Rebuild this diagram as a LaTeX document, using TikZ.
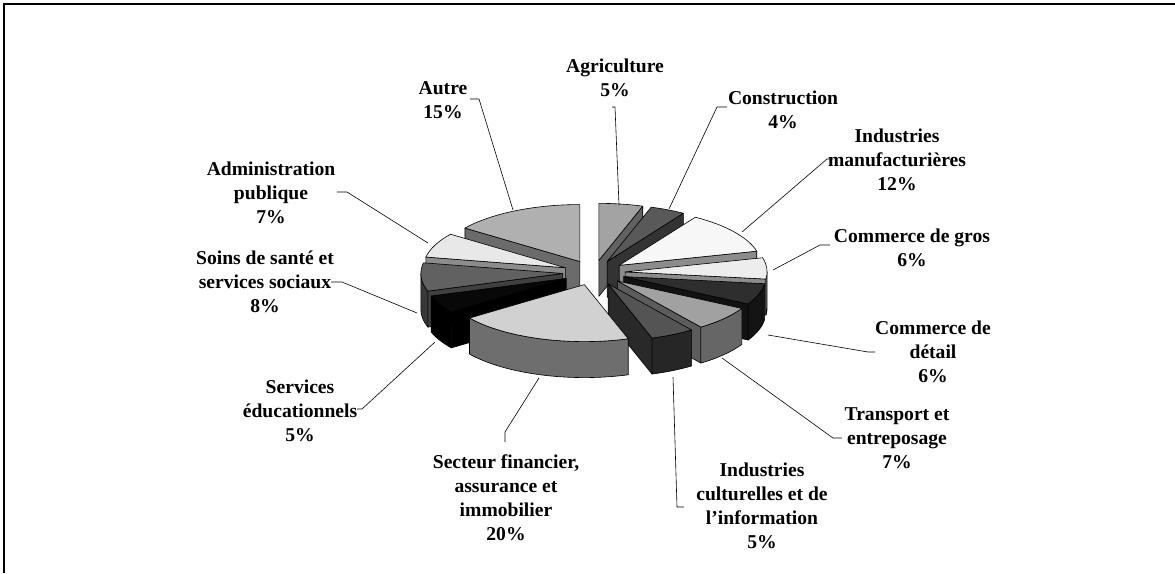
\documentclass[tikz,border=0pt]{standalone}
\usepackage{fontspec}
\setmainfont{Liberation Serif}
\usepackage{tikz}
\usetikzlibrary{positioning}
\tikzset{face/.style = {draw=black, line width=0.6pt, line join=round}}
\tikzset{lbl/.style = {align=center, inner sep=0,
                       font=\fontsize{19.6}{24}\selectfont\bfseries}}
\tikzset{lead/.style = {draw=black, line width=0.6pt}}

\begin{document}
\begin{tikzpicture}[x=1pt, y=-1pt]
    \useasboundingbox (0,0) rectangle (1175,573);
    \draw[line width=1.3pt] (4,573) -- (4,4) -- (1175,4);

    % slices, back to front: start/end angle, top, cut face, rim
    \begin{scope}[shift={(594,272.7)}, yscale=-1]
      \foreach \a/\b/\ctop/\cface/\crim in {72/90/0.64/0.38/0.38,
                                             57.6/72/0.35/0.2/0.2,
                                             -270/-216/0.69/0.42/0.42,
                                             14.4/57.6/0.97/0.55/0.55,
                                             -216/-190.8/0.91/0.55/0.55,
                                             -7.2/14.4/0.93/0.55/0.78,
                                             -190.8/-162/0.38/0.25/0.22,
                                             -28.8/-7.2/0.18/0.07/0.08,
                                             -162/-144/0.03/0/0,
                                             -54/-28.8/0.63/0.36/0.4,
                                             -72/-54/0.33/0.16/0.15,
                                             -144/-72/0.82/0.43/0.43} {
        \definecolor{topc}{gray}{\ctop}
        \definecolor{facec}{gray}{\cface}
        \definecolor{rimc}{gray}{\crim}
        \pgfmathsetmacro\midang{(\a+\b)/2}
        \pgfmathtruncatemacro\sa{cos(\a)>0.01}
        \pgfmathtruncatemacro\sb{cos(\b)<-0.01}
        \pgfmathsetmacro\ra{max(\a,-180)}
        \pgfmathsetmacro\rb{min(\b,0)}
        \pgfmathtruncatemacro\sr{\ra<\rb}
        \begin{scope}[shift={({31.2*cos(\midang)},{12.5*sin(\midang)})}]
          \ifnum\sa=1
            \filldraw[face, fill=facec] (0,0) -- (\a:142 and 57) -- ++(0,-36) -- (0,-36) -- cycle;
          \fi
          \ifnum\sb=1
            \filldraw[face, fill=facec] (0,0) -- (\b:142 and 57) -- ++(0,-36) -- (0,-36) -- cycle;
          \fi
          \ifnum\sr=1
            \filldraw[face, fill=rimc] (\ra:142 and 57)
              arc[start angle=\ra, end angle=\rb, x radius=142, y radius=57] -- ++(0,-36)
              arc[start angle=\rb, end angle=\ra, x radius=142, y radius=57] -- cycle;
          \fi
          \filldraw[face, fill=topc] (0,0) -- (\a:142 and 57)
            arc[start angle=\a, end angle=\b, x radius=142, y radius=57] -- cycle;
        \end{scope}
      }
    \end{scope}

    \node[lbl] (agri) at (615,77.5) {Agriculture\\5\%};
    \node[lbl] (constr) at (783,109.5) {Construction\\4\%};
    \node[lbl] (manuf) at (897,160) {Industries\\manufacturières\\12\%};
    \node[lbl] (gros) at (912,247.5) {Commerce de gros\\6\%};
    \node[lbl] (detail) at (933,352) {Commerce de\\détail\\6\%};
    \node[lbl] (transp) at (897,438) {Transport et\\entreposage\\7\%};
    \node[lbl] (cult) at (762,506) {Industries\\culturelles et de\\l’information\\5\%};
    \node[lbl] (fin) at (506,497.5) {Secteur financier,\\assurance et\\immobilier\\20\%};
    \node[lbl] (educ) at (300,411) {Services\\éducationnels\\5\%};
    \node[lbl] (soins) at (265,282) {Soins de santé et\\services sociaux\\8\%};
    \node[lbl] (admin) at (271,193) {Administration\\publique\\7\%};
    \node[lbl] (autre) at (443,100) {Autre\\15\%};

    \coordinate (t-agri) at (612,107);   \coordinate (p-agri) at (619,205);
    \coordinate (t-constr) at (727,107); \coordinate (p-constr) at (669,209);
    \coordinate (t-manuf) at (833,159);  \coordinate (p-manuf) at (742,232);
    \coordinate (t-gros) at (830,245);   \coordinate (p-gros) at (773,270);
    \coordinate (t-detail) at (875,352); \coordinate (p-detail) at (768,335);
    \coordinate (t-transp) at (842,438); \coordinate (p-transp) at (722,358);
    \coordinate (t-cult) at (684,507);   \coordinate (p-cult) at (673,377);
    \coordinate (t-fin) at (505,442);    \coordinate (p-fin) at (539,378);
    \coordinate (t-educ) at (357,409);   \coordinate (p-educ) at (435,342);
    \coordinate (t-soins) at (331,282);  \coordinate (p-soins) at (417,313);
    \coordinate (t-admin) at (337,192);  \coordinate (p-admin) at (428,243);
    \coordinate (t-autre) at (470,99);   \coordinate (p-autre) at (513,210);

    \draw[lead] (t-agri) -- ++(3,0) -- (p-agri);
    \draw[lead] (t-constr) -- ++(-10,0) -- (p-constr);
    \draw[lead] (t-manuf) -- ++(-6,0) -- (p-manuf);
    \draw[lead] (t-gros) -- ++(-10,0) -- (p-gros);
    \draw[lead] (t-detail) -- ++(-7,0) -- (p-detail);
    \draw[lead] (t-transp) -- ++(-9,0) -- (p-transp);
    \draw[lead] (t-cult) -- ++(-7,0) -- (p-cult);
    \draw[lead] (t-fin) -- ++(0,-10) -- (p-fin);
    \draw[lead] (t-educ) -- ++(5,0) -- (p-educ);
    \draw[lead] (t-soins) -- ++(11,0) -- (p-soins);
    \draw[lead] (t-admin) -- ++(10,0) -- (p-admin);
    \draw[lead] (t-autre) -- ++(9,0) -- (p-autre);
\end{tikzpicture}
\end{document}
